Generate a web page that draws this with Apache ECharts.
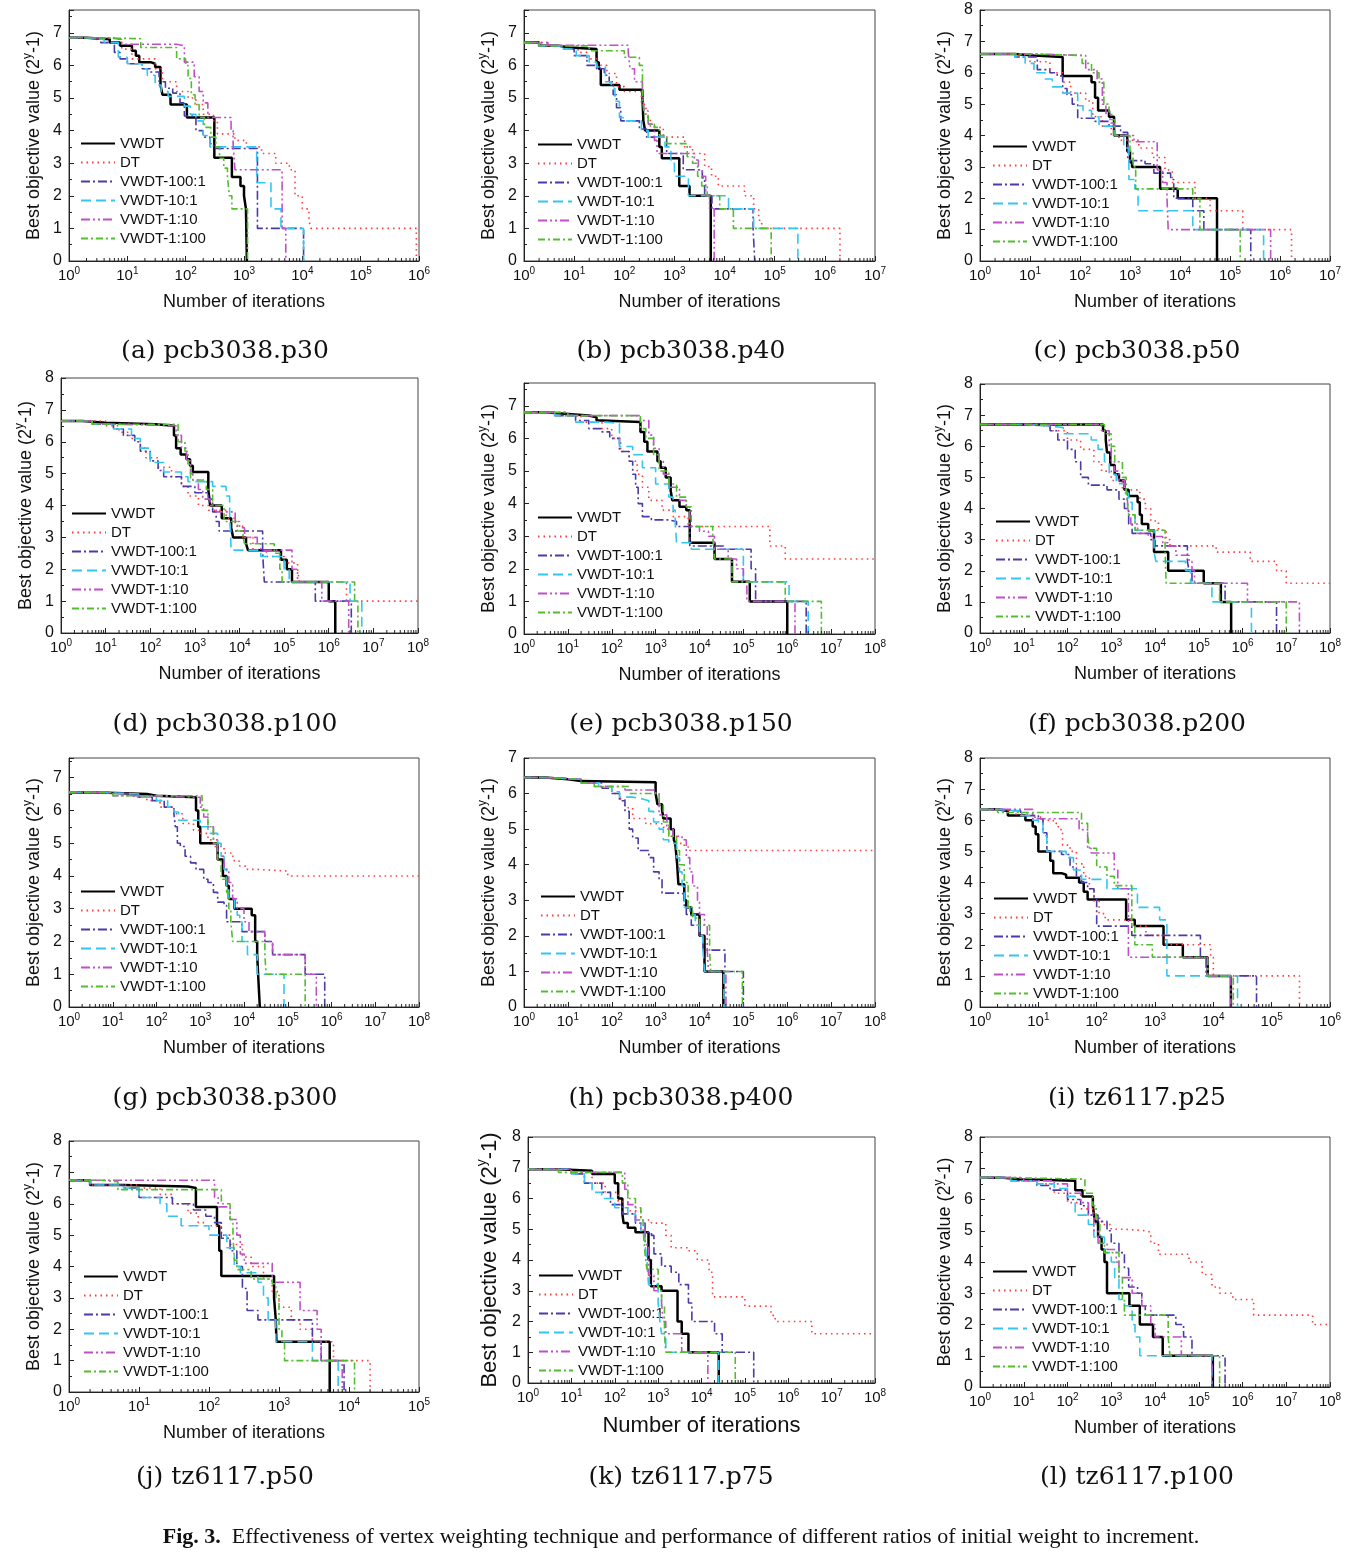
<!DOCTYPE html>
<html><head><meta charset="utf-8">
<script src="https://cdn.jsdelivr.net/npm/echarts@6.0.0/dist/echarts.min.js"></script>
<style>html,body{margin:0;padding:0;background:#fff}#c{width:1353px;height:1558px}</style>
</head><body><div id="c"></div>
<script>
const seriesNames = ['VWDT','DT','VWDT-100:1','VWDT-10:1','VWDT-1:10','VWDT-1:100'];
const panelCaptions = ['(a) pcb3038.p30','(b) pcb3038.p40','(c) pcb3038.p50','(d) pcb3038.p100','(e) pcb3038.p150','(f) pcb3038.p200','(g) pcb3038.p300','(h) pcb3038.p400','(i) tz6117.p25','(j) tz6117.p50','(k) tz6117.p75','(l) tz6117.p100'];
const xMaxExp = [6,7,7,8,8,8,8,8,6,5,8,8];
const yMax = [7.7,7.7,8,8,7.7,8,7.6,7,8,8,8,8];
const figCaptionBold = 'Fig. 3.';
const figCaptionText = 'Effectiveness of vertex weighting technique and performance of different ratios of initial weight to increment.';

// (a) pcb3038.p30
const a_VWDT = [[1,6.85],[2,6.8],[5,6.7],[7.5,6.6],[12,6.45],[14,6.3],[16,6.1],[25,6.05],[30,5.95],[37,5.4],[40,5.1],[55,4.8],[105,4.4],[310,3.17],[620,2.58],[870,2.3],[1000,2.0],[1080,1.6],[1120,0]];
const a_DT = [[1,6.85],[5,6.8],[8,6.5],[12,6.2],[30,5.9],[40,5.5],[70,5.2],[110,5.0],[150,4.8],[200,4.5],[300,4.3],[350,3.9],[700,3.7],[1100,3.5],[2000,3.3],[3500,3.0],[6000,2.8],[7500,2.0],[10000,1.6],[13000,1.25],[14000,1.0],[900000,0]];
const a_W100 = [[1,6.85],[2,6.8],[3.5,6.7],[6,6.4],[7.5,6.2],[10,6.05],[18,5.9],[25,5.8],[35,5.5],[45,5.3],[60,5.15],[80,4.85],[95,4.45],[150,4.0],[200,3.8],[260,3.6],[300,3.45],[1700,1.0],[10500,0]];
const a_W10 = [[1,6.85],[2,6.8],[4,6.7],[7,6.25],[10,6.05],[18,5.9],[22,5.7],[30,5.4],[38,5.2],[50,5.05],[95,4.75],[120,4.5],[150,4.3],[200,3.85],[260,3.5],[1650,2.4],[2900,1.6],[4300,1.0],[10500,0]];
const a_W1_10 = [[1,6.85],[5,6.8],[8,6.65],[70,6.6],[95,6.1],[140,5.65],[170,5.2],[200,4.85],[240,4.4],[600,4.0],[650,3.6],[700,2.8],[4500,1.0],[5200,0]];
const a_W1_100 = [[1,6.85],[2,6.82],[17,6.55],[70,6.2],[100,6.0],[110,5.6],[125,5.1],[145,4.8],[170,4.4],[210,4.1],[270,3.8],[330,3.5],[380,3.15],[450,2.85],[520,2.6],[560,2.0],[620,1.6],[1150,0]];
// (b) pcb3038.p40
const b_VWDT = [[1,6.7],[2,6.6],[5,6.55],[8,6.5],[28,6.1],[31,5.9],[34,5.4],[80,5.25],[230,5.05],[240,4.3],[260,4.0],[500,3.5],[560,3.15],[1250,2.3],[2000,2.0],[5300,0]];
const b_DT = [[1,6.7],[3,6.6],[12,6.4],[18,6.2],[28,6.0],[45,5.75],[70,5.35],[100,5.2],[220,4.8],[270,4.4],[330,4.1],[600,3.8],[1600,3.5],[2300,3.3],[4000,2.9],[5500,2.6],[7500,2.3],[25000,2.0],[38000,1.6],[48000,1.25],[55000,1.0],[2000000,0]];
const b_W100 = [[1,6.7],[2,6.6],[6,6.5],[10,6.3],[18,6.0],[28,5.9],[40,5.7],[50,5.5],[60,5.1],[70,4.7],[85,4.3],[200,4.05],[280,3.8],[700,3.3],[1500,2.8],[3600,2.55],[4000,2.0],[5600,1.6],[37000,1.0],[40000,0]];
const b_W10 = [[1,6.7],[2,6.6],[6,6.5],[11,6.3],[20,6.1],[28,5.95],[42,5.5],[55,5.3],[65,4.9],[80,4.4],[95,4.3],[220,4.0],[300,3.8],[650,3.5],[850,3.0],[1000,2.6],[1900,2.0],[12000,1.6],[38000,1.0],[290000,0]];
const b_W1_10 = [[1,6.7],[3,6.62],[120,6.4],[130,5.9],[160,5.5],[230,5.2],[250,4.6],[300,4.2],[400,3.7],[450,3.3],[2500,3.1],[3000,2.8],[3600,2.6],[4200,2.0],[5000,1.6],[6200,0]];
const b_W1_100 = [[1,6.7],[2,6.6],[20,6.45],[100,6.25],[200,6.0],[230,5.0],[250,4.5],[300,4.2],[400,4.1],[500,3.85],[700,3.6],[1800,3.2],[2300,3.0],[2900,2.6],[3500,2.3],[4500,2.0],[8000,1.6],[15000,1.0],[85000,0]];
// (c) pcb3038.p50
const c_VWDT = [[1,6.6],[5,6.55],[12,6.5],[45,5.9],[170,5.7],[200,5.2],[230,4.8],[380,4.6],[480,4.0],[880,3.5],[1000,3.15],[1100,3.0],[4000,2.3],[9000,2.0],[55000,0]];
const c_DT = [[1,6.6],[5,6.55],[10,6.35],[25,6.0],[45,5.7],[65,5.35],[130,5.1],[180,4.6],[280,4.3],[420,4.0],[600,3.85],[1500,3.6],[2800,3.3],[5000,2.9],[7000,2.5],[20000,2.0],[40000,1.6],[180000,1.0],[1700000,0]];
const c_W100 = [[1,6.6],[5,6.5],[14,6.1],[25,6.0],[35,5.9],[45,5.5],[55,5.3],[70,5.0],[90,4.55],[200,4.45],[380,4.3],[650,4.1],[900,3.3],[1000,3.2],[2000,3.1],[3000,2.8],[6500,2.6],[7500,2.0],[18000,1.6],[30000,1.0],[260000,0]];
const c_W10 = [[1,6.6],[5,6.5],[8,6.3],[12,6.0],[20,5.8],[28,5.55],[45,5.35],[90,4.95],[115,4.8],[170,4.6],[240,4.3],[480,4.0],[750,3.6],[950,2.6],[1250,2.3],[1450,1.6],[18000,1.0],[470000,0]];
const c_W1_10 = [[1,6.6],[10,6.55],[130,6.1],[220,5.8],[280,5.0],[330,4.7],[400,4.4],[480,4.0],[1200,3.8],[3500,2.9],[4500,2.5],[5500,2.0],[5800,1.0],[650000,0]];
const c_W1_100 = [[1,6.6],[10,6.55],[110,6.3],[170,6.0],[240,5.7],[300,5.0],[380,4.75],[430,4.5],[500,4.0],[1000,3.5],[1150,3.0],[1300,2.3],[18000,2.0],[25000,1.0],[160000,0]];
// (d) pcb3038.p100
const d_VWDT = [[1,6.65],[3,6.6],[10,6.55],[130,6.5],[340,6.2],[380,5.8],[480,5.6],[650,5.45],[780,5.25],[900,5.05],[2000,4.5],[2200,4.0],[4000,3.6],[6500,3.3],[7200,3.0],[14000,2.8],[15500,2.6],[85000,2.3],[115000,2.0],[150000,1.6],[1000000,1.0],[1400000,0]];
const d_DT = [[1,6.65],[10,6.5],[20,6.3],[35,6.1],[60,5.8],[80,5.5],[150,5.2],[300,4.9],[500,4.6],[700,4.3],[1200,4.0],[2000,3.85],[5000,3.6],[8000,3.35],[12000,3.0],[20000,2.6],[40000,2.4],[100000,2.2],[200000,2.0],[220000,1.6],[2500000,1.0],[100000000,1.0]];
const d_W100 = [[1,6.65],[5,6.55],[15,6.4],[25,6.2],[45,6.0],[60,5.7],[100,5.4],[150,5.1],[200,4.9],[500,4.6],[1000,4.4],[2000,4.2],[2500,3.8],[3000,3.5],[3500,3.2],[33000,2.5],[36000,1.6],[500000,1.0],[3200000,0]];
const d_W10 = [[1,6.65],[5,6.55],[15,6.4],[38,6.1],[60,5.8],[100,5.35],[200,5.05],[500,4.9],[700,4.75],[2500,4.6],[5000,4.3],[6000,3.8],[6500,2.6],[30000,2.4],[100000,2.0],[130000,1.6],[3000000,1.0],[5500000,0]];
const d_W1_10 = [[1,6.65],[5,6.55],[20,6.5],[380,6.2],[500,5.8],[650,5.4],[800,5.0],[900,4.8],[1200,4.5],[1500,4.2],[2200,4.0],[3000,3.8],[8000,3.5],[10000,3.3],[13000,3.0],[25000,2.8],[30000,2.6],[150000,2.0],[200000,1.6],[700000,1.0],[2800000,0]];
const d_W1_100 = [[1,6.65],[5,6.55],[420,6.0],[600,5.7],[700,5.3],[800,4.8],[1800,4.5],[2500,4.0],[4500,3.5],[9000,3.2],[12000,3.0],[13000,2.8],[60000,2.5],[80000,2.0],[90000,1.6],[3800000,1.0],[4500000,0]];
// (e) pcb3038.p150
const e_VWDT = [[1,6.8],[3,6.75],[10,6.7],[30,6.65],[45,6.55],[60,6.5],[450,6.2],[550,5.9],[650,5.6],[1100,5.3],[1300,5.1],[1700,4.8],[2200,4.4],[2400,4.1],[3500,3.9],[5000,3.8],[6000,2.8],[22000,2.3],[55000,1.6],[140000,1.0],[1000000,0]];
const e_DT = [[1,6.8],[5,6.7],[20,6.5],[60,6.3],[100,6.0],[160,5.6],[250,5.3],[380,4.9],[500,4.5],[700,4.1],[1400,3.8],[2500,3.6],[5500,3.3],[400000,2.7],[900000,2.3],[100000000,2.3]];
const e_W100 = [[1,6.8],[5,6.7],[15,6.55],[30,6.3],[60,6.2],[90,6.0],[150,5.6],[250,5.3],[300,4.9],[350,4.5],[400,4.0],[500,3.6],[800,3.5],[2000,3.45],[3000,3.3],[6000,2.7],[35000,2.6],[150000,2.0],[190000,1.0],[2700000,0]];
const e_W10 = [[1,6.8],[5,6.7],[15,6.5],[80,6.45],[150,5.75],[300,5.5],[500,5.1],[1000,4.6],[2000,4.2],[2500,3.8],[2800,3.4],[3000,2.8],[6500,2.6],[100000,1.6],[1100000,1.0],[3000000,0]];
const e_W1_10 = [[1,6.8],[10,6.7],[450,6.55],[700,6.1],[900,5.7],[1200,5.3],[1500,4.9],[2000,4.5],[3500,4.1],[5000,3.9],[6000,3.3],[10000,3.15],[16000,3.0],[22000,2.6],[45000,2.3],[70000,2.0],[100000,1.6],[120000,1.0],[1500000,0]];
const e_W1_100 = [[1,6.8],[10,6.7],[450,6.3],[600,6.0],[900,5.5],[1200,5.0],[2000,4.6],[3000,4.2],[5000,3.9],[6500,3.3],[20000,3.0],[22000,2.3],[55000,1.6],[900000,1.0],[6000000,0]];
// (f) pcb3038.p200
const f_VWDT = [[1,6.7],[650,6.5],[750,6.2],[800,5.8],[950,5.4],[1200,5.1],[1500,4.9],[2000,4.6],[2500,4.4],[4000,4.2],[4500,3.8],[5000,3.5],[7000,3.3],[9500,2.6],[20000,2.0],[130000,1.6],[320000,1.0],[550000,0]];
const f_DT = [[1,6.7],[10,6.65],[40,6.5],[100,6.2],[200,5.9],[400,5.5],[600,5.2],[1000,4.9],[1800,4.6],[4500,4.3],[6000,4.0],[8000,3.6],[12000,3.3],[18000,3.0],[22000,2.8],[250000,2.6],[1500000,2.3],[6000000,2.0],[10000000,1.6],[100000000,1.6]];
const f_W100 = [[1,6.7],[10,6.65],[40,6.5],[60,6.2],[100,5.9],[150,5.5],[200,5.0],[300,4.75],[800,4.6],[1500,4.3],[2000,4.0],[2500,3.5],[3000,3.2],[8000,3.0],[10000,2.8],[55000,2.3],[60000,2.0],[70000,1.6],[400000,1.0],[6000000,0]];
const f_W10 = [[1,6.7],[10,6.65],[40,6.6],[80,6.4],[350,6.2],[500,5.9],[700,5.5],[900,5.1],[1300,4.8],[2000,4.5],[2500,4.2],[3000,3.8],[3500,3.3],[9500,2.6],[10500,2.3],[50000,2.0],[65000,1.6],[200000,1.0],[1600000,0]];
const f_W1_10 = [[1,6.7],[600,6.5],[900,6.0],[1000,5.5],[1200,5.2],[1500,4.9],[2000,4.6],[2300,4.4],[2500,3.8],[2800,3.5],[4000,3.2],[7000,3.1],[15000,2.9],[20000,2.8],[30000,2.5],[60000,2.3],[70000,2.0],[80000,1.6],[1300000,1.0],[20000000,0]];
const f_W1_100 = [[1,6.7],[700,6.4],[1000,6.0],[1200,5.5],[1800,5.0],[2200,4.5],[2400,4.0],[2500,3.8],[3500,3.3],[17000,2.6],[18000,1.6],[300000,1.0],[10000000,0]];
// (g) pcb3038.p300
const g_VWDT = [[1,6.55],[5,6.5],[60,6.45],[100,6.4],[800,6.0],[900,5.5],[1000,5.0],[2500,4.5],[3300,4.0],[4000,3.7],[4500,3.3],[6000,3.0],[15000,2.8],[18000,2.0],[20000,1.6],[21000,1.0],[23000,0]];
const g_DT = [[1,6.55],[5,6.5],[30,6.4],[60,6.3],[120,6.1],[250,5.9],[400,5.6],[700,5.4],[1000,5.3],[1500,5.1],[2000,4.9],[3500,4.7],[5000,4.6],[6000,4.45],[8000,4.3],[12000,4.2],[20000,4.15],[100000,4.0],[100000000,4.0]];
const g_W100 = [[1,6.55],[5,6.5],[40,6.4],[80,6.3],[150,6.1],[250,5.9],[270,5.5],[300,5.0],[350,4.9],[450,4.6],[600,4.4],[800,4.2],[1200,3.9],[1500,3.8],[2000,3.5],[2500,3.2],[3500,3.1],[4000,2.6],[9000,2.3],[30000,2.0],[45000,1.6],[250000,1.0],[700000,0]];
const g_W10 = [[1,6.55],[5,6.5],[40,6.4],[100,6.3],[180,6.1],[250,5.95],[320,5.7],[1000,5.5],[1500,5.3],[2500,5.0],[3000,4.6],[3500,4.2],[4000,3.7],[4500,3.3],[6000,3.0],[7000,2.8],[8000,2.6],[9000,2.0],[12000,1.6],[20000,1.0],[82000,0]];
const g_W1_10 = [[1,6.55],[10,6.45],[30,6.4],[1000,6.1],[1200,5.8],[1500,5.5],[2000,5.1],[2500,4.6],[3500,4.2],[4500,3.8],[5500,3.3],[7000,3.0],[10000,2.6],[13000,2.3],[30000,2.0],[45000,1.6],[250000,1.0],[450000,0]];
const g_W1_100 = [[1,6.55],[10,6.45],[1100,6.0],[1500,5.5],[2000,5.0],[2500,4.5],[3000,3.9],[4000,3.5],[4500,3.0],[5000,2.6],[5500,2.0],[30000,1.6],[32000,1.0],[250000,0]];
// (h) pcb3038.p400
const h_VWDT = [[1,6.45],[3,6.4],[10,6.35],[20,6.32],[1000,6.0],[1100,5.7],[1400,5.55],[1500,5.3],[2200,5.0],[2600,4.7],[2800,4.6],[3100,4.0],[3300,3.45],[4500,3.0],[5000,2.8],[6500,2.6],[10000,2.0],[13000,1.0],[35000,0]];
const h_DT = [[1,6.45],[3,6.4],[20,6.3],[40,6.2],[100,6.0],[150,5.85],[200,5.6],[300,5.3],[600,5.15],[1500,5.05],[2000,4.8],[3000,4.6],[4500,4.5],[6000,4.4],[100000000,4.4]];
const h_W100 = [[1,6.45],[3,6.4],[20,6.3],[60,6.15],[100,6.0],[150,5.8],[200,5.5],[250,5.0],[300,4.75],[400,4.4],[700,4.2],[900,3.8],[1200,3.6],[1400,3.2],[4000,3.15],[4500,2.8],[5000,2.6],[6500,2.3],[10000,2.0],[12000,1.6],[38000,1.0],[100000,0]];
const h_W10 = [[1,6.45],[3,6.4],[20,6.3],[50,6.2],[100,6.05],[150,5.9],[300,5.85],[500,5.8],[700,5.5],[900,5.2],[1200,5.0],[1500,4.7],[2000,4.6],[3000,4.2],[3500,3.8],[4000,3.4],[4500,2.8],[6000,2.6],[8000,2.3],[10000,2.0],[12000,1.6],[13000,1.0],[36000,0]];
const h_W1_10 = [[1,6.45],[3,6.4],[20,6.3],[40,6.2],[200,6.1],[1000,6.0],[1200,5.4],[1800,5.0],[2500,4.8],[4000,4.7],[5000,4.2],[6000,3.8],[7000,3.4],[9000,3.0],[10000,2.6],[13000,2.3],[15000,1.6],[16000,1.0],[40000,0]];
const h_W1_100 = [[1,6.45],[3,6.4],[20,6.3],[40,6.2],[250,6.0],[1200,5.7],[1500,5.2],[2000,4.8],[3000,4.4],[3500,4.0],[4500,3.5],[5500,2.8],[7000,2.5],[10000,2.3],[17000,1.6],[18000,1.0],[95000,0]];
// (i) tz6117.p25
const i_VWDT = [[1,6.35],[2,6.3],[3,6.15],[6,6.0],[8,5.8],[9,5.55],[10,5.0],[16,4.7],[18,4.3],[25,4.25],[30,4.15],[50,4.0],[60,3.7],[70,3.45],[320,2.8],[450,2.6],[1400,2.0],[3000,1.6],[8000,1.0],[20000,0]];
const i_DT = [[1,6.35],[2,6.3],[4,6.2],[8,6.1],[12,6.0],[18,5.9],[22,5.7],[26,5.2],[35,5.0],[45,4.6],[60,4.2],[75,3.8],[90,3.4],[110,3.0],[140,2.8],[400,2.6],[700,2.3],[1500,2.0],[9000,1.6],[10000,1.0],[300000,0]];
const i_W100 = [[1,6.35],[2,6.3],[5,6.15],[10,6.05],[12,5.6],[14,5.0],[25,4.9],[35,4.5],[45,4.2],[55,4.0],[70,3.8],[90,3.5],[100,2.6],[400,2.3],[6000,1.6],[7500,1.0],[55000,0]];
const i_W10 = [[1,6.35],[2,6.3],[5,6.15],[8,6.0],[10,5.9],[12,5.5],[14,5.0],[30,4.8],[40,4.4],[55,4.1],[150,3.8],[500,3.2],[1200,2.8],[1600,1.0],[26000,0]];
const i_W1_10 = [[1,6.35],[8,6.05],[50,5.7],[70,5.1],[80,4.95],[200,4.4],[230,3.8],[350,1.6],[8000,1.0],[20000,0]];
const i_W1_100 = [[1,6.35],[2,6.25],[55,5.9],[70,5.5],[75,5.1],[100,4.5],[150,4.2],[200,3.9],[400,2.6],[450,2.0],[900,1.6],[8000,1.0],[22000,0]];
// (j) tz6117.p50
const j_VWDT = [[1,6.75],[2,6.6],[6,6.55],[50,6.5],[65,5.9],[130,5.3],[140,4.5],[150,3.7],[850,3.0],[900,2.3],[920,1.6],[5300,0]];
const j_DT = [[1,6.75],[2,6.6],[10,6.5],[20,6.3],[30,6.0],[50,5.7],[70,5.4],[90,5.3],[150,5.0],[200,4.7],[300,4.3],[400,4.0],[600,3.6],[800,3.2],[1000,2.7],[1500,2.3],[2000,2.0],[3000,1.6],[6000,1.0],[20000,0]];
const j_W100 = [[1,6.75],[2,6.6],[6,6.5],[10,6.2],[30,6.0],[60,5.8],[90,5.6],[120,5.4],[150,4.9],[200,4.5],[250,4.0],[300,3.3],[350,2.6],[500,2.3],[3000,1.6],[4000,1.0],[8500,0]];
const j_W10 = [[1,6.75],[2,6.6],[6,6.5],[10,6.2],[20,6.0],[25,5.6],[40,5.3],[100,5.0],[180,4.6],[230,4.0],[280,3.8],[500,3.5],[600,3.0],[700,2.3],[900,1.6],[3000,1.0],[7000,0]];
const j_W1_10 = [[1,6.75],[120,6.2],[135,5.9],[200,5.5],[250,5.0],[280,4.4],[320,4.1],[800,3.5],[2000,2.6],[3500,2.0],[4000,1.0],[8000,0]];
const j_W1_100 = [[1,6.75],[3,6.7],[5,6.45],[150,6.0],[200,5.5],[220,5.0],[230,4.2],[250,3.9],[400,3.6],[800,3.45],[900,3.0],[1000,2.0],[1100,1.6],[1200,1.0],[12000,0]];
// (k) tz6117.p75
const k_VWDT = [[1,6.95],[5,6.9],[30,6.8],[100,6.5],[120,6.0],[150,5.5],[160,5.2],[200,5.05],[300,4.9],[600,4.0],[680,3.15],[1200,3.0],[2800,2.0],[3500,1.6],[5000,1.0],[25000,0]];
const k_DT = [[1,6.95],[10,6.85],[30,6.5],[60,6.2],[120,5.9],[200,5.6],[400,5.3],[700,5.2],[1500,4.8],[2000,4.4],[5000,4.3],[8000,4.0],[15000,3.6],[18000,2.8],[100000,2.5],[400000,2.2],[500000,2.0],[3500000,1.6],[100000000,1.6]];
const k_W100 = [[1,6.95],[10,6.8],[20,6.5],[50,6.2],[80,5.8],[150,5.5],[300,5.2],[500,4.9],[700,4.8],[800,4.2],[1200,3.8],[2000,3.6],[3000,3.2],[5000,2.6],[6000,2.0],[20000,1.6],[30000,1.0],[160000,0]];
const k_W10 = [[1,6.95],[10,6.8],[20,6.5],[30,6.2],[50,6.0],[100,5.7],[200,5.5],[300,5.2],[400,4.9],[500,4.5],[550,4.0],[600,3.2],[1000,2.6],[1100,2.0],[1200,1.6],[1500,1.0],[25000,0]];
const k_W1_10 = [[1,6.95],[10,6.85],[170,6.3],[200,5.8],[300,5.3],[400,5.0],[500,4.5],[600,3.5],[800,3.0],[1200,2.6],[1300,2.0],[1500,1.6],[3500,1.0],[14000,0]];
const k_W1_100 = [[1,6.95],[5,6.85],[150,6.5],[200,6.0],[300,5.7],[400,5.3],[450,5.0],[500,4.2],[550,3.7],[1000,3.0],[1200,2.5],[1400,1.6],[1500,1.0],[60000,0]];
// (l) tz6117.p100
const l_VWDT = [[1,6.7],[3,6.65],[8,6.6],[150,6.3],[220,6.1],[380,5.8],[420,5.3],[500,4.8],[600,4.4],[700,4.0],[800,3.0],[2600,2.6],[4500,2.0],[9000,1.6],[15000,1.0],[210000,0]];
const l_DT = [[1,6.7],[5,6.6],[20,6.5],[50,6.2],[100,5.9],[200,5.7],[400,5.4],[600,5.2],[1000,5.05],[2000,5.0],[6000,4.95],[8000,4.6],[12000,4.25],[60000,4.0],[120000,3.6],[200000,3.2],[300000,3.0],[600000,2.8],[1800000,2.3],[40000000,2.0],[100000000,2.0]];
const l_W100 = [[1,6.7],[5,6.6],[20,6.45],[40,6.3],[100,6.0],[200,5.8],[300,5.5],[500,5.3],[800,5.0],[1000,4.6],[1500,4.3],[2000,3.8],[2500,3.2],[4000,3.0],[5000,2.6],[6000,2.3],[30000,2.0],[45000,1.6],[70000,1.0],[400000,0]];
const l_W10 = [[1,6.7],[5,6.6],[20,6.5],[50,6.35],[100,6.1],[150,5.5],[300,5.2],[400,4.8],[700,4.3],[1000,4.0],[1200,3.5],[1500,2.8],[2000,2.6],[3000,2.0],[3500,1.6],[4500,1.0],[200000,0]];
const l_W1_10 = [[1,6.7],[10,6.6],[50,6.5],[100,6.2],[200,5.9],[300,5.5],[400,5.0],[500,4.6],[800,4.4],[1300,4.0],[1500,3.5],[3000,3.0],[5000,2.6],[8000,2.0],[10000,1.6],[40000,1.0],[200000,0]];
const l_W1_100 = [[1,6.7],[5,6.65],[250,6.2],[380,5.8],[450,5.2],[550,4.6],[700,4.3],[1500,3.5],[1800,2.8],[2000,2.3],[20000,1.6],[22000,1.0],[300000,0]];

const panelData = [
  [a_VWDT,a_DT,a_W100,a_W10,a_W1_10,a_W1_100],
  [b_VWDT,b_DT,b_W100,b_W10,b_W1_10,b_W1_100],
  [c_VWDT,c_DT,c_W100,c_W10,c_W1_10,c_W1_100],
  [d_VWDT,d_DT,d_W100,d_W10,d_W1_10,d_W1_100],
  [e_VWDT,e_DT,e_W100,e_W10,e_W1_10,e_W1_100],
  [f_VWDT,f_DT,f_W100,f_W10,f_W1_10,f_W1_100],
  [g_VWDT,g_DT,g_W100,g_W10,g_W1_10,g_W1_100],
  [h_VWDT,h_DT,h_W100,h_W10,h_W1_10,h_W1_100],
  [i_VWDT,i_DT,i_W100,i_W10,i_W1_10,i_W1_100],
  [j_VWDT,j_DT,j_W100,j_W10,j_W1_10,j_W1_100],
  [k_VWDT,k_DT,k_W100,k_W10,k_W1_10,k_W1_100],
  [l_VWDT,l_DT,l_W100,l_W10,l_W1_10,l_W1_100]
];

// ---- layout & styles ----
const layout = [
  {l:69,t:10,w:350,h:251,lg:[80,135]},
  {l:524,t:10,w:351,h:251,lg:[537,136]},
  {l:980,t:10,w:350,h:251,lg:[992,138]},
  {l:61,t:378,w:357,h:255,lg:[71,505]},
  {l:524,t:383,w:351,h:251,lg:[537,509]},
  {l:980,t:384,w:350,h:249,lg:[995,513]},
  {l:69,t:758,w:350,h:249,lg:[80,883]},
  {l:524,t:758,w:351,h:249,lg:[540,888]},
  {l:980,t:758,w:350,h:249,lg:[993,890]},
  {l:69,t:1141,w:350,h:251,lg:[83,1268]},
  {l:528,t:1137,w:347,h:246,lg:[538,1267]},
  {l:980,t:1137,w:350,h:250,lg:[992,1263]}
];
const colCenters = [225, 681, 1137];
const rowCapY = [351, 724, 1098, 1477];
const FONT = '"Liberation Sans", Arial, sans-serif';
const styles = [
  {color:'#000000', width:2.5, type:'solid'},
  {color:'#ff3b3b', width:1.6, type:[1.5,4]},
  {color:'#4a3ca8', width:1.6, type:[9,3,2,3]},
  {color:'#33c6f2', width:1.6, type:[10,5]},
  {color:'#c04fc8', width:1.6, type:[9,3,2,3,2,3]},
  {color:'#52bd2e', width:1.6, type:[7,3,2,3]}
];

const chart = echarts.init(document.getElementById('c'), null, {renderer:'canvas'});

const grids = [], xAxes = [], yAxes = [], series = [], legends = [], graphics = [];
layout.forEach((g, i) => {
  const big = (i === 10);
  grids.push({left:g.l, top:g.t, width:g.w, height:g.h, show:true, borderColor:'#444', borderWidth:1, backgroundColor:'transparent'});
  xAxes.push({
    type:'log', logBase:10, gridIndex:i, min:1, max:Math.pow(10, xMaxExp[i]), splitNumber:xMaxExp[i],
    axisLine:{show:true, onZero:false, lineStyle:{color:'#222', width:1}},
    axisTick:{show:true, inside:true, length:5, lineStyle:{color:'#222'}},
    splitLine:{show:false},
    axisLabel:{margin:5, color:'#111', fontFamily:FONT,
      formatter: v => '{b|10}{s|' + Math.round(Math.log10(v)) + '}',
      rich:{b:{fontSize:15, lineHeight:20, fontFamily:FONT, color:'#111'}, s:{fontSize:10, lineHeight:10, verticalAlign:'top', fontFamily:FONT, color:'#111'}}},
    name:'Number of iterations', nameLocation:'middle', nameGap: big ? 32 : 32,
    nameTextStyle:{fontSize: big ? 22 : 18, color:'#111', fontFamily:FONT}
  });
  yAxes.push({
    type:'value', gridIndex:i, min:0, max:yMax[i], interval:1,
    axisLine:{show:true, lineStyle:{color:'#222', width:1}},
    axisTick:{show:true, inside:true, length:5, lineStyle:{color:'#222'}},
    minorTick:{show:true, splitNumber:2, length:3, lineStyle:{color:'#222'}},
    splitLine:{show:false},
    axisLabel:{margin:7, fontSize:16, color:'#111', fontFamily:FONT, formatter: v => Number.isInteger(v) ? String(v) : ''},
    name: '{n|Best objective value (2}{s|y}{n|-1)}', nameLocation:'middle', nameGap: 23,
    nameTextStyle:{color:'#111', fontFamily:FONT,
      rich:{n:{fontSize: big ? 22 : 18, lineHeight: big ? 30 : 24, fontFamily:FONT, color:'#111'},
            s:{fontSize: big ? 14 : 12, lineHeight: big ? 14 : 12, verticalAlign:'top', fontFamily:FONT, color:'#111'}}}
  });
  panelData[i].forEach((d, j) => {
    series.push({
      type:'line', name:seriesNames[j], xAxisIndex:i, yAxisIndex:i, data:d, step:'end',
      symbol:'none', showSymbol:false, animation:false, z: 2 + j,
      lineStyle:{color:styles[j].color, width:styles[j].width, type:styles[j].type},
      itemStyle:{color:styles[j].color}
    });
  });
  const decades = [];
  for (let e = 0; e < xMaxExp[i]; e++) decades.push([Math.pow(10, e), 0]);
  series.push({
    type:'custom', xAxisIndex:i, yAxisIndex:i, data:decades, silent:true, animation:false, clip:false, z:10,
    renderItem:(params, api) => {
      const base = api.value(0); const ch = [];
      for (let k = 2; k < 10; k++) {
        const p = api.coord([k * base, 0]);
        ch.push({type:'line', shape:{x1:p[0], y1:p[1], x2:p[0], y2:p[1] - 3}, style:{stroke:'#222', lineWidth:1}});
      }
      return {type:'group', children:ch};
    }
  });
  legends.push({
    data:seriesNames, orient:'vertical', left:g.lg[0], top:g.lg[1], padding:0,
    itemWidth:34, itemHeight:12, itemGap:2, selectedMode:false,
    itemStyle:{opacity:0, borderWidth:0},
    textStyle:{fontSize: 15, lineHeight:17, color:'#111', fontFamily:FONT, padding:[0,0,0,0]}
  });
  graphics.push({
    type:'text', x: colCenters[i % 3], y: rowCapY[Math.floor(i / 3)],
    style:{text:panelCaptions[i], fill:'#111', font:'25px "DejaVu Serif", serif', textAlign:'center', textVerticalAlign:'middle'}
  });
});
graphics.push({
  type:'text', x:681, y:1537,
  style:{text:'{b|' + figCaptionBold + '}{n|  ' + figCaptionText + '}', textAlign:'center', textVerticalAlign:'middle',
    rich:{b:{font:'bold 22px "Liberation Serif", serif', fill:'#111'}, n:{font:'22px "Liberation Serif", serif', fill:'#111'}}}
});

chart.setOption({
  backgroundColor:'#ffffff', animation:false,
  grid:grids, xAxis:xAxes, yAxis:yAxes, legend:legends, series:series, graphic:graphics
});
</script></body></html>
